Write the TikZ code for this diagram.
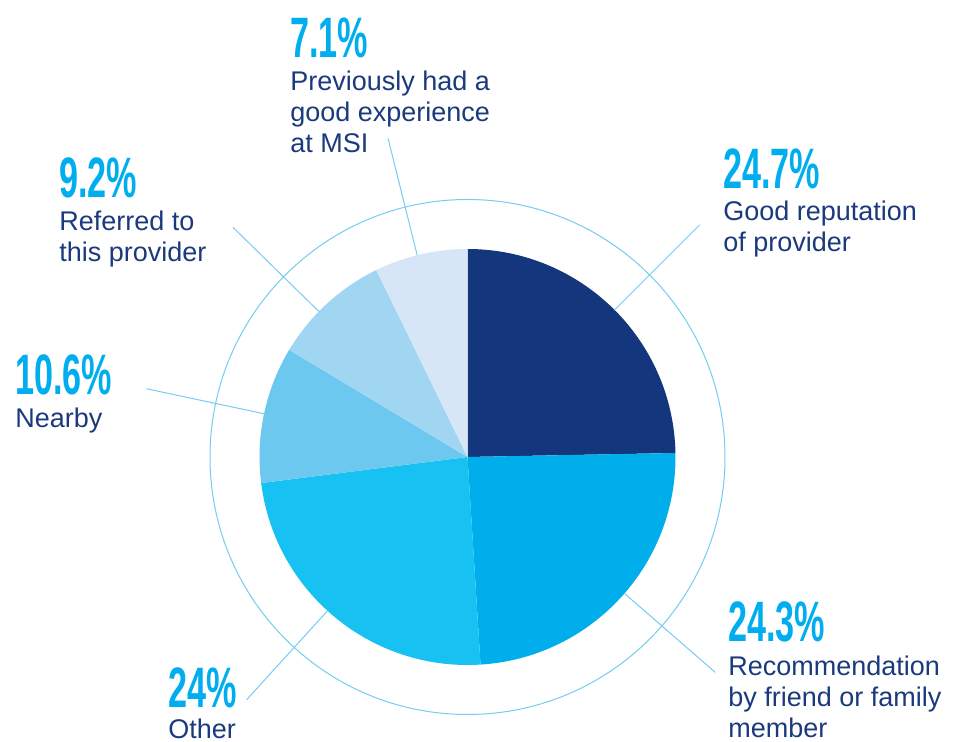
\documentclass[tikz,border=0pt]{standalone}
\usepackage{fontspec}
\setmainfont{Liberation Sans}
\usepackage{graphicx}
\definecolor{navy}{HTML}{14367D}
\definecolor{cyanA}{HTML}{00AEEC}
\definecolor{cyanB}{HTML}{17C1F1}
\definecolor{cyanC}{HTML}{6CC8EE}
\definecolor{cyanD}{HTML}{A0D6F2}
\definecolor{cyanE}{HTML}{D6E6F7}
\definecolor{pctblue}{HTML}{00AEEF}
\definecolor{txtnavy}{HTML}{1B3A7D}
\definecolor{ringblue}{HTML}{74CDF0}
\newcommand{\pct}[1]{\scalebox{0.6}[1]{#1}}
\begin{document}
\begin{tikzpicture}[x=0.5pt,y=0.5pt,line join=round,line cap=round,
  pctlbl/.style={inner sep=0,anchor=base west,text=pctblue,font=\fontsize{28.5}{30}\selectfont\bfseries},
  desc/.style={inner sep=0,anchor=north west,align=left,text=txtnavy,font=\fontsize{13.5}{15.5}\selectfont},
  leader/.style={draw=ringblue,line width=0.5pt}]
\useasboundingbox (0,0) rectangle (955,-742);
\coordinate (ctr) at (467.5,-457);
\def\rp{208}
\def\rr{257.5}
% slices, clockwise from the top
\foreach \s/\e/\c in {90/1.1/navy,1.1/-86.4/cyanA,-86.4/-172.8/cyanB,187.2/149/cyanC,149/116/cyanD,116/90/cyanE}{
  \fill[\c] (ctr) -- ++(\s:\rp) arc (\s:\e:\rp) -- cycle;}
\draw[leader] (ctr) circle (\rr);
% leader lines
\foreach \a/\n in {45/rep,-41/rec,227.7/oth,168/nby,135.6/ref,104/prv}{
  \coordinate (\n-in) at ([shift={(\a:\rp)}]ctr);
  \coordinate (\n-out) at ([shift={(\a:328)}]ctr);
  \draw[leader] (\n-in) -- (\n-out);}
% labels
\node[pctlbl] (p71) at (290,-58) {\pct{7.1\%}};
\node[desc] (l71) at ([yshift=-6.2pt]p71.base west) {Previously had a\\good experience\\at MSI};
\node[pctlbl] (p92) at (59,-198) {\pct{9.2\%}};
\node[desc] (l92) at ([yshift=-6.2pt]p92.base west) {Referred to\\this provider};
\node[pctlbl] (p247) at (723,-189) {\pct{24.7\%}};
\node[desc] (l247) at ([yshift=-5.8pt]p247.base west) {Good reputation\\of provider};
\node[pctlbl] (p106) at (15,-395) {\pct{10.6\%}};
\node[desc] (l106) at ([yshift=-6.2pt]p106.base west) {Nearby};
\node[pctlbl] (p24) at (168,-708) {\pct{24\%}};
\node[desc] (l24) at ([yshift=-5.2pt]p24.base west) {Other};
\node[pctlbl] (p243) at (728,-642) {\pct{24.3\%}};
\node[desc] (l243) at ([yshift=-6.7pt]p243.base west) {Recommendation\\by friend or family\\member};
\end{tikzpicture}
\end{document}
